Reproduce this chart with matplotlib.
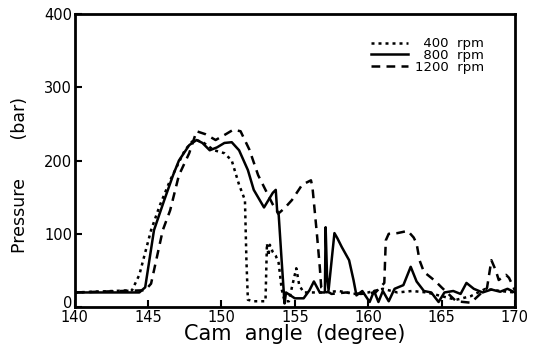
import matplotlib
matplotlib.use("Agg")
import matplotlib.pyplot as plt
import matplotlib.transforms as mtransforms

# ---- data ----
x_400 = [140, 143.9, 144.4, 145.2, 145.8, 146.5, 147.5, 148.0, 148.3, 148.8, 149.5, 150.2, 150.7,
         151.2, 151.6, 151.65, 151.7, 151.8, 152.2, 153.0, 153.1, 153.2, 153.3, 153.5, 153.7,
         153.9, 154.1, 154.3, 154.6, 154.8, 155.1, 155.3, 155.6, 157, 158, 159, 160, 161, 162,
         163, 164, 165, 166, 167, 168, 169, 170]
p_400 = [20, 23, 44, 105, 139, 173, 214, 226, 228, 224, 214, 210, 200,
         167, 146, 105, 64, 10, 8, 8, 87, 70, 85, 75, 70,
         60, 25, 8, 8, 27, 53, 30, 20, 20, 22, 18, 20, 25, 20,
         22, 20, 15, 10, 15, 25, 22, 20]

x_800 = [140, 144.4, 144.8, 145.4, 146.1, 146.7, 147.1, 147.8, 148.3, 148.7, 149.2, 149.7, 150.2,
         150.7, 151.2, 151.8, 152.2, 152.9, 153.5, 153.7, 153.8, 153.9, 154.1, 154.3, 154.4,
         155.0, 155.6, 156.0, 156.3, 156.7, 157.05, 157.1, 157.2, 157.3, 157.7, 157.9, 158.2,
         158.7, 159.0, 159.2, 159.6, 160.1, 160.4, 160.7, 161.0, 161.4, 161.8, 162.4, 162.9,
         163.3, 163.8, 164.3, 164.8, 165.2, 165.8, 166.3, 166.7, 167.2, 167.8, 168.4, 169.0,
         169.5, 170]
p_800 = [20, 20, 27, 105, 146, 180, 200, 221, 228, 224, 214, 218, 224,
         225, 214, 187, 160, 136, 156, 160, 130, 126, 64, 5, 20,
         12, 12, 23, 35, 20, 20, 109, 40, 23, 101, 94, 82,
         64, 37, 16, 22, 7, 22, 7, 22, 8, 25, 30, 55,
         35, 22, 20, 7, 20, 22, 18, 33, 25, 20, 24, 21,
         25, 20]

x_1200 = [140, 144.8, 145.2, 146.0, 146.5, 147.1, 147.8, 148.3, 148.9, 149.6, 150.3, 150.8,
          151.3, 151.9, 152.5, 153.0, 153.5, 153.9, 154.3, 154.8, 155.5, 156.1, 156.2, 156.5,
          156.7, 156.8, 157.5, 158.5, 159.5, 160.5, 161.1, 161.2, 161.4, 162.0, 162.7, 163.1,
          163.3, 163.5, 163.8, 164.3, 164.6, 165.0, 166.0, 167.0, 167.7, 168.1, 168.4, 168.7,
          168.9, 169.4, 169.6, 170]
p_1200 = [20, 23, 32, 105, 132, 180, 210, 240, 236, 228, 236, 242,
          240, 215, 180, 160, 140, 128, 135, 146, 167, 173, 164, 101,
          55, 27, 18, 20, 18, 20, 33, 91, 100, 101, 104, 95,
          87, 64, 48, 40, 35, 27, 8, 6, 19, 26, 64, 50,
          37, 44, 40, 23]

xticks = [140, 145, 150, 155, 160, 165, 170]
yticks = [0, 100, 200, 300, 400]
series_labels = ["\u2007400  rpm", "\u2007800  rpm", "1200  rpm"]

# ---- figure ----
plt.rcParams['font.family'] = ['DejaVu Sans']
fig = plt.figure(figsize=(5.38, 3.49), dpi=100)
ax = fig.add_axes([0.139, 0.120, 0.818, 0.840])

lw = 1.8
l1, = ax.plot(x_400, p_400, color='black', lw=lw, linestyle=(0, (1.2, 1.6)))
l2, = ax.plot(x_800, p_800, color='black', lw=lw, linestyle='-')
l3, = ax.plot(x_1200, p_1200, color='black', lw=lw, linestyle=(0, (3.5, 2.5)))

ax.set_xlim(140, 170)
ax.set_ylim(0, 400)
ax.set_xticks(xticks)
ax.set_yticks(yticks)
ax.tick_params(direction='in', length=5, width=1.5, labelsize=10.5, pad=2)
for s in ax.spines.values():
    s.set_linewidth(2)

# nudge the "0" label up a little (it sits just above the "140" label)
ylabels = ax.get_yticklabels()
ylabels[0].set_transform(ylabels[0].get_transform() +
                         mtransforms.ScaledTranslation(0, 4 / 72, fig.dpi_scale_trans))

ax.set_xlabel("Cam  angle  (degree)", fontsize=15, labelpad=-1)
ax.set_ylabel("Pressure       (bar)", fontsize=12.5)
ax.yaxis.set_label_coords(-0.105, 0.45)

leg = ax.legend([l1, l2, l3], series_labels, loc='upper right',
                bbox_to_anchor=(0.93, 0.92), frameon=False, fontsize=9.5,
                handlelength=2.8, handletextpad=0.5, labelspacing=-0.1,
                borderaxespad=0, borderpad=0)

fig.savefig("out.png", dpi=100)
